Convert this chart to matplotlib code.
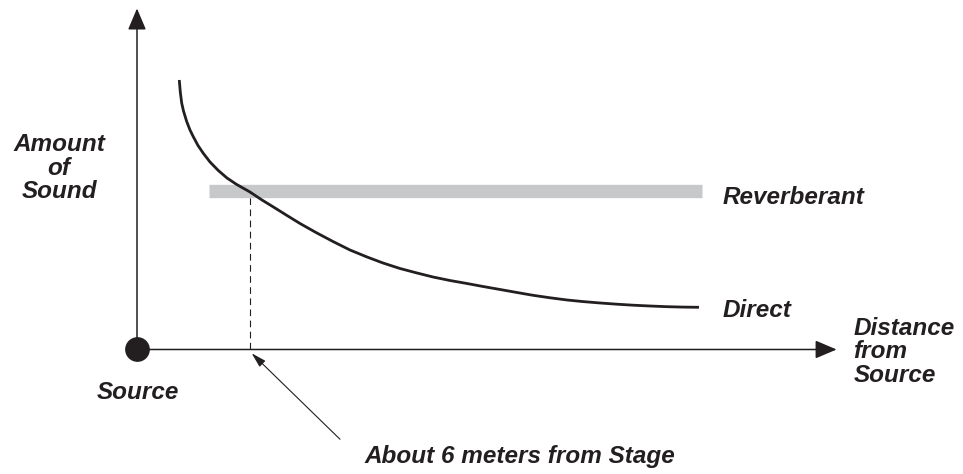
import matplotlib
matplotlib.use('Agg')
import matplotlib.pyplot as plt

# schematic data: distance from source (m) vs amount of sound (arbitrary units)
direct_x = [2.246, 2.299, 2.373, 2.469, 2.639, 2.814, 2.989, 3.239, 3.520, 3.876,
            4.317, 4.779, 5.294, 6.000, 6.637, 7.328, 7.965, 8.655, 9.505, 10.407,
            11.310, 12.213, 13.062, 13.965, 14.868, 15.717, 16.620, 17.522, 18.372,
            19.275, 20.177, 21.027, 21.930, 22.832, 23.682, 24.584, 25.487, 26.337,
            27.239, 28.142, 28.992, 29.841]
direct_y = [79.26, 75.74, 72.50, 70.15, 67.06, 64.56, 62.59, 60.00, 57.71, 55.15,
            52.65, 50.44, 48.53, 46.32, 43.97, 41.62, 39.41, 37.06, 34.41, 31.76,
            29.26, 27.21, 25.44, 23.82, 22.50, 21.32, 20.29, 19.41, 18.53,
            17.65, 16.76, 15.94, 15.21, 14.56, 14.09, 13.68, 13.32, 13.03,
            12.79, 12.59, 12.47, 12.41]

reverb_x = [3.82, 29.98]
reverb_level = 46.5

critical_distance = 6.0   # "About 6 meters from Stage"
axis_x_max = 37.15
axis_y_max = 100.3

ink = '#231f20'
reverb_color = '#c7c8ca'

plt.rcParams['font.family'] = ['Liberation Sans', 'DejaVu Sans']

fig = plt.figure(figsize=(9.63, 4.74), dpi=100)
ax = fig.add_axes([0, 0, 1, 1])
ax.set_xlim(-7.274, 43.86)
ax.set_ylim(-36.62, 102.79)
ax.axis('off')

# reverberant level (flat grey band)
ax.plot(reverb_x, [reverb_level, reverb_level], color=reverb_color, lw=9.6,
        solid_capstyle='butt', zorder=1)

# direct sound falling off with distance
ax.plot(direct_x, direct_y, color=ink, lw=2.0, zorder=3,
        solid_capstyle='butt', solid_joinstyle='round')

# dashed drop line at the crossing
ax.plot([critical_distance, critical_distance], [0, reverb_level], color=ink,
        lw=0.8, ls=(0, (6, 4)), zorder=2)

# axes with arrow heads
axis_arrow = dict(arrowstyle='-|>,head_length=13.2,head_width=5.6', mutation_scale=1,
                  lw=1.1, color=ink, shrinkA=0, shrinkB=0)
ax.annotate('', xy=(0, axis_y_max), xytext=(0, 0), arrowprops=axis_arrow)
ax.annotate('', xy=(axis_x_max, 0), xytext=(0, 0), arrowprops=axis_arrow)

# source dot
ax.plot([0], [0], 'o', ms=16.8, color=ink, zorder=5)

txt = dict(fontsize=17.5, fontweight='bold', fontstyle='italic', color=ink)

ax.text(-4.13, 44.5, 'Amount\nof\nSound', ha='center', va='baseline',
        multialignment='center', linespacing=1.02, **txt)
ax.text(31.12, 42.8, 'Reverberant', ha='left', va='baseline', **txt)
ax.text(31.1, 9.65, 'Direct', ha='left', va='baseline', **txt)
ax.text(38.03, -9.47, 'Distance\nfrom\nSource', ha='left', va='baseline',
        linespacing=1.02, **txt)
ax.text(-2.14, -14.6, 'Source', ha='left', va='baseline', **txt)
ax.text(12.1, -33.4, 'About 6 meters from Stage', ha='left', va='baseline', **txt)

# pointer to the crossing distance
ax.annotate('', xy=(6.09, -1.12), xytext=(10.78, -26.4),
            arrowprops=dict(arrowstyle='-|>,head_length=9,head_width=2.5',
                            mutation_scale=1, lw=0.8, color=ink,
                            shrinkA=0, shrinkB=0))

fig.savefig('out.png', dpi=100)
